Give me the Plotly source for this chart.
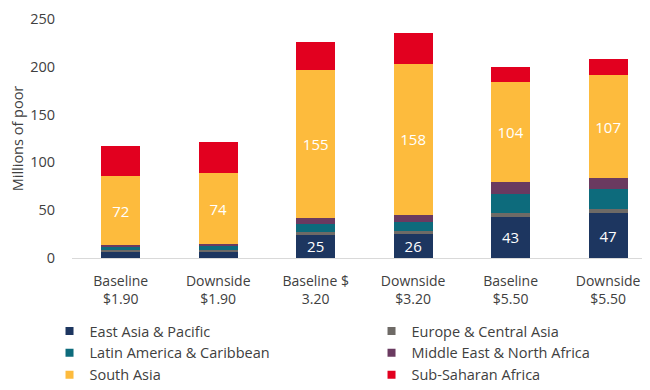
import plotly.graph_objects as go

categories = ["Baseline<br>$1.90", "Downside<br>$1.90", "Baseline $<br>3.20",
              "Downside<br>$3.20", "Baseline<br>$5.50", "Downside<br>$5.50"]
east_asia = [7, 7, 25, 26, 43, 47]
europe_ca = [1, 1, 2, 2, 4, 4]
latin_am = [4, 5, 9, 10, 20, 21]
mena = [1.5, 1.5, 6, 7, 13, 12]
south_asia = [72, 74, 155, 158, 104, 107]
ssa = [32, 33, 29, 32, 16, 17]
east_asia_labels = ["", "", "25", "26", "43", "47"]
south_asia_labels = ["72", "74", "155", "158", "104", "107"]

series = [
    ("East Asia & Pacific", east_asia, "#1d3660", east_asia_labels),
    ("Europe & Central Asia", europe_ca, "#6e6a66", None),
    ("Latin America & Caribbean", latin_am, "#0d6b7c", None),
    ("Middle East & North Africa", mena, "#6a3a60", None),
    ("South Asia", south_asia, "#fdbb3d", south_asia_labels),
    ("Sub-Saharan Africa", ssa, "#e2001f", None),
]

FONT = "Open Sans"
fig = go.Figure()
for name, vals, color, labels in series:
    fig.add_trace(go.Bar(
        x=categories, y=vals, name=name, marker_color=color,
        marker_line_width=0, showlegend=False,
        text=labels, textposition="inside" if labels else "none",
        insidetextanchor="middle", textangle=0, constraintext="none",
        textfont=dict(color="white", size=15, family=FONT),
        hoverinfo="x+y+name",
    ))

# legend entries: two columns (left column: 1st, 3rd, 5th series; right: 2nd, 4th, 6th)
for i, (name, vals, color, labels) in enumerate(series):
    fig.add_trace(go.Scatter(
        x=[None], y=[None], mode="markers", name=name,
        marker=dict(symbol="square", size=8, color=color),
        showlegend=True, legend="legend" if i % 2 == 0 else "legend2",
    ))

leg_common = dict(
    orientation="v", yanchor="top", y=-0.2385, xanchor="left",
    traceorder="normal", itemwidth=30, tracegroupgap=0,
    font=dict(size=14.5, color="#404040", family=FONT), bgcolor="rgba(0,0,0,0)",
)

# page body has an 8px margin: the figure is offset by 8px, so its size and margins
# are set to place the plot where it sits in the 650x390 window (extra height is cropped)
fig.update_layout(
    width=642, height=400,
    barmode="stack", bargap=0.6,
    plot_bgcolor="white", paper_bgcolor="white",
    margin=dict(l=64, r=0, t=11, b=150),
    font=dict(family=FONT, color="#404040", size=14),
    showlegend=True,
    legend=dict(x=-0.0389, **leg_common),
    legend2=dict(x=0.5182, **leg_common),
    xaxis=dict(
        type="category", range=[-0.5, 5.43], automargin=False,
        showline=True, linecolor="#d9d9d9", linewidth=1,
        showgrid=False, ticks="", tickfont=dict(size=14, color="#404040"),
        ticklabelstandoff=10,
    ),
    yaxis=dict(
        range=[0, 250], dtick=50, showgrid=False, zeroline=False, automargin=False,
        showline=False, ticks="", tickfont=dict(size=14.5, color="#404040"),
        ticklabelstandoff=16,
        title=dict(text="Millions of poor", font=dict(size=14.5, color="#404040"), standoff=10),
    ),
)

fig.write_html("out.html")
